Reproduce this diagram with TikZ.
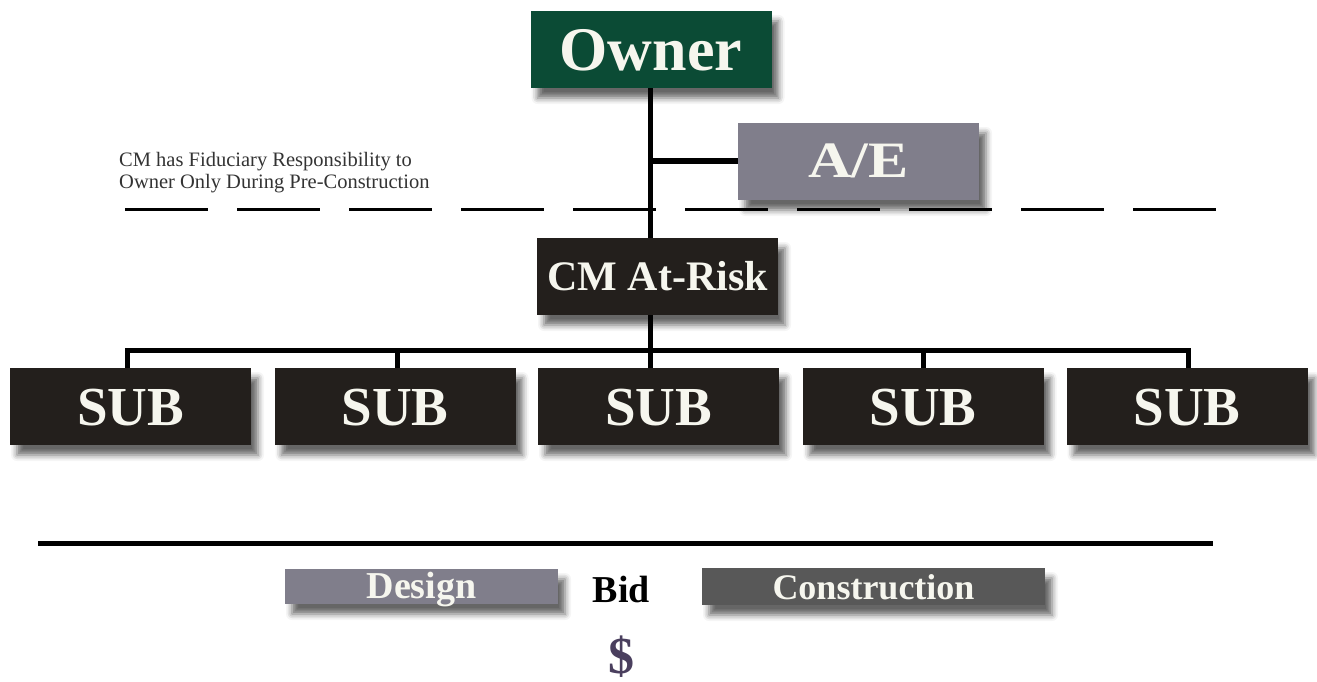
\documentclass[tikz,border=0pt]{standalone}
\usepackage{fontspec}
\setmainfont{Liberation Serif}
\usetikzlibrary{shadows.blur}
\definecolor{ownergreen}{HTML}{0B4B35}
\definecolor{aegray}{HTML}{807E8B}
\definecolor{boxdark}{HTML}{231F1C}
\definecolor{consgray}{HTML}{585858}
\definecolor{txtwhite}{HTML}{F6F6EE}
\definecolor{dollar}{HTML}{4A3F5E}
\definecolor{notegray}{HTML}{333333}
\tikzset{
  shbox/.style={draw=none, inner sep=0pt, text=txtwhite, font=\bfseries,
    blur shadow={shadow xshift=7pt, shadow yshift=-10pt, shadow blur radius=6pt, shadow opacity=60}},
  bigbox/.style={shbox, minimum width=241pt, minimum height=77pt, text depth=0pt},
  conn/.style={line width=5pt, draw=black},
}
\begin{document}
\begin{tikzpicture}[x=1pt, y=-1pt]
\useasboundingbox (0,0) rectangle (1317,682);

% boxes
\node[bigbox, fill=ownergreen, font=\bfseries\fontsize{62}{62}\selectfont, text height=42pt] (owner) at (651,49.5) {Owner};
\node[bigbox, fill=aegray, font=\bfseries\fontsize{51}{51}\selectfont, text height=33pt] (ae) at (858.5,161.5) {\scalebox{1.18}[1]{A/E}};
\node[bigbox, fill=boxdark, font=\bfseries\fontsize{42}{42}\selectfont, text height=28pt] (cm) at (657.5,276.5) {CM At-Risk};
\foreach \i/\x in {1/130.5,2/395,3/658.5,4/923,5/1187}{
  \node[bigbox, fill=boxdark, font=\bfseries\fontsize{55}{55}\selectfont, text height=37pt] (sub\i) at (\x,406.5) {SUB};
}

% helper coordinates for connectors
\coordinate (trunk) at (650,0);
\coordinate (bus) at (0,350);
\coordinate (v1) at (127,0);
\coordinate (v2) at (397,0);
\coordinate (v3) at (650,0);
\coordinate (v4) at (923,0);
\coordinate (v5) at (1188,0);

% connectors
\draw[conn] (owner.south -| trunk) -- (cm.north -| trunk);
\draw[line width=6pt] (ae.west |- 0,161) -- (trunk |- 0,161);
\draw[conn] (cm.south -| trunk) -- (bus -| trunk);
\draw[conn, line cap=rect] (bus -| v1) -- (bus -| v5);
\foreach \i in {1,...,5}{
  \draw[conn] (bus -| v\i) -- (sub\i.north -| v\i);
}

% dashed phase line
\coordinate (dl) at (125,209);
\coordinate (dr) at (1216,209);
\draw[line width=3pt, dash pattern=on 83pt off 29pt] (dl) -- (dr);

% note
\node[anchor=north west, align=left, inner sep=0pt, text=notegray,
      font=\fontsize{20.5}{22}\selectfont] (note) at (119,152)
  {CM has Fiduciary Responsibility to\\Owner Only During Pre-Construction};

% timeline
\coordinate (tl) at (38,543);
\coordinate (tr) at (1213,543);
\draw[line width=5pt] (tl) -- (tr);

\node[shbox, fill=aegray, minimum width=273pt, minimum height=35pt,
      font=\bfseries\fontsize{38}{38}\selectfont, text height=27pt, text depth=4pt, yshift=-2pt] (design) at (421.5,584.5) {Design};
\node[shbox, fill=consgray, minimum width=343pt, minimum height=37pt,
      font=\bfseries\fontsize{36}{36}\selectfont, text height=25pt, text depth=0pt] (cons) at (873.5,586.5) {Construction};
\node[anchor=base, inner sep=0pt, font=\bfseries\fontsize{38}{38}\selectfont] (bid) at (621.5,602) {Bid};
\node[anchor=base, inner sep=0pt, text=dollar, font=\bfseries\fontsize{52}{52}\selectfont] (dol) at (621,673) {\$};
\end{tikzpicture}
\end{document}
